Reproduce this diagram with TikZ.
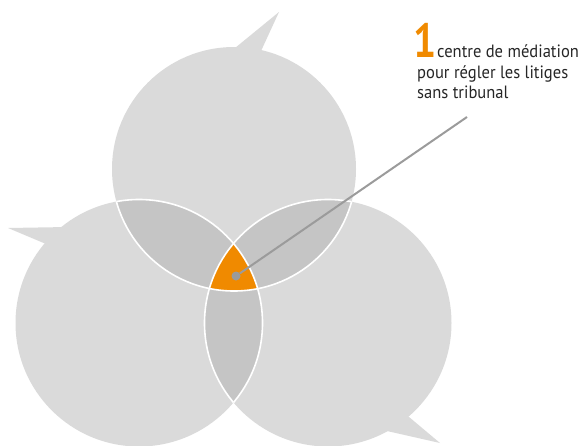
\documentclass[tikz,border=0pt]{standalone}
\usepackage{fontspec}
\setmainfont{PT Sans}[FakeStretch=0.93]
\newfontfamily\numfont[FakeStretch=0.85]{PT Sans}
\definecolor{bubblegray}{RGB}{218, 218, 218}
\definecolor{overlapgray}{RGB}{197, 197, 197}
\definecolor{medorange}{RGB}{240, 138, 0}
\definecolor{pointergray}{RGB}{155, 155, 155}
\usepackage{tikz}
\usetikzlibrary{positioning}

\begin{document}
\begin{tikzpicture}[x=1pt, y=-1pt,
                    seam/.style={white, line width=1.6pt},
                    textline/.style={anchor=base west, inner sep=0pt, text=black!85,
                                     font=\fontsize{17.8}{20}\selectfont}]
    \useasboundingbox (0,0) rectangle (581,445);
    \coordinate (topc) at (234,169);
    \coordinate (leftc) at (139,323);
    \coordinate (rightc) at (328,323);
    % bubbles with their tails
    \fill[bubblegray] (topc) circle (122pt);
    \fill[bubblegray] (leftc) circle (123.5pt);
    \fill[bubblegray] (rightc) circle (123.5pt);
    \fill[bubblegray] (228.4,53.4) -- (279,12) -- (258.3,56.9) -- cycle;
    \fill[bubblegray] (73.6,226.9) -- (8,228) -- (51.7,246.4) -- cycle;
    \fill[bubblegray] (404.4,413.1) -- (440,443) -- (379,429.2) -- cycle;
    % overlaps
    \begin{scope}
        \clip (topc) circle (122pt);
        \fill[overlapgray] (leftc) circle (123.5pt);
        \fill[overlapgray] (rightc) circle (123.5pt);
    \end{scope}
    \begin{scope}
        \clip (leftc) circle (123.5pt);
        \fill[overlapgray] (rightc) circle (123.5pt);
    \end{scope}
    \begin{scope}
        \clip (topc) circle (122pt);
        \clip (leftc) circle (123.5pt);
        \fill[medorange] (rightc) circle (123.5pt);
    \end{scope}
    % white seams
    \begin{scope}
        \clip (leftc) circle (123.5pt) (rightc) circle (123.5pt);
        \draw[seam] (topc) circle (122pt);
    \end{scope}
    \begin{scope}
        \clip (topc) circle (122pt) (rightc) circle (123.5pt);
        \draw[seam] (leftc) circle (123.5pt);
    \end{scope}
    \begin{scope}
        \clip (topc) circle (122pt) (leftc) circle (123.5pt);
        \draw[seam] (rightc) circle (123.5pt);
    \end{scope}
    % pointer and label
    \node[circle, fill=pointergray, inner sep=0pt, minimum size=9pt] (dot) at (236,276) {};
    \coordinate (tipend) at (467,117);
    \draw[pointergray, line width=2pt] (dot) -- (tipend);
    \node[anchor=base west, inner sep=0pt, text=medorange,
          font=\numfont\bfseries\fontsize{48}{48}\selectfont] (num) at (413,57) {1};
    \node[textline] (line1) at (437,57) {centre de médiation};
    \node[textline] (line2) at (417,78) {pour régler les litiges};
    \node[textline] (line3) at (417,98) {sans tribunal};
\end{tikzpicture}
\end{document}
